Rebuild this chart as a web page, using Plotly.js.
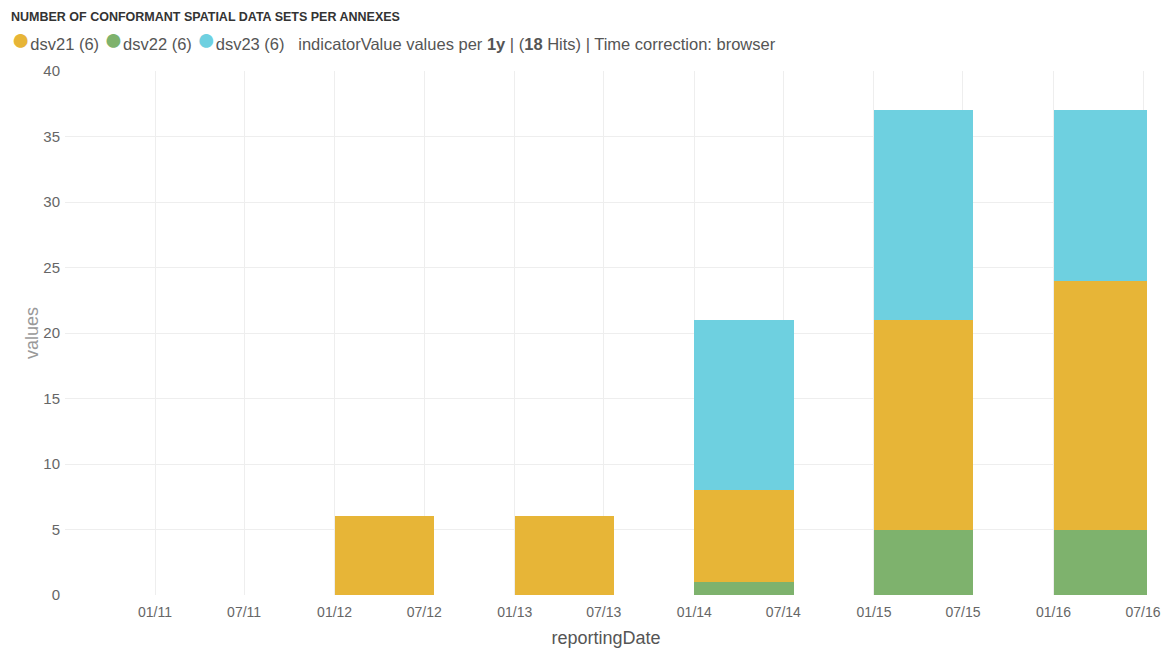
<!DOCTYPE html>
<html>
<head>
<meta charset="utf-8">
<script src="https://cdn.plot.ly/plotly-3.0.1.min.js"></script>
<style>html,body{margin:0;padding:0;background:#fff;}#chart{width:1167px;height:648px;}</style>
</head>
<body>
<div id="chart"></div>
<script>
// Data
var reportingDates = ["2011-01-01", "2012-01-01", "2013-01-01", "2014-01-01", "2015-01-01", "2016-01-01"];
var dsv21 = [0, 6, 6, 7, 16, 19];
var dsv22 = [0, 0, 0, 1, 5, 5];
var dsv23 = [0, 0, 0, 13, 16, 13];
var seriesNames = ["dsv21", "dsv22", "dsv23"];
var seriesColors = {dsv21: "#E7B537", dsv22: "#7EB26D", dsv23: "#6ED0E0"};
var chartTitle = "NUMBER OF CONFORMANT SPATIAL DATA SETS PER ANNEXES";
var intervalLabel = "1y";

var DAY = 86400000;
var barWidth = 202 * DAY;

function barTrace(name, vals) {
  return {
    type: "bar",
    name: name,
    x: reportingDates,
    y: vals,
    width: reportingDates.map(function(){return barWidth;}),
    offset: 0,
    marker: {color: seriesColors[name], line: {width: 0}},
    hoverinfo: "x+y+name"
  };
}

// stack order: dsv22 bottom, dsv21 middle, dsv23 top
var data = [barTrace("dsv22", dsv22), barTrace("dsv21", dsv21), barTrace("dsv23", dsv23)];

var counts = {dsv21: dsv21.length, dsv22: dsv22.length, dsv23: dsv23.length};
var hits = dsv21.length + dsv22.length + dsv23.length;

var legendHtml = seriesNames.map(function(n){
  return '<span style="color:' + seriesColors[n] + ';font-size:32px">●</span>' + n + ' (' + counts[n] + ')';
}).join(' ') + '   indicatorValue values per <b>' + intervalLabel + '</b> | (<b>' + hits + '</b> Hits) | Time correction: browser';

var FONT = "'Liberation Sans', Arial, sans-serif";
var L = 65, R = 20, T = 71, B = 53, W = 1167, H = 648;
var pw = W - L - R, ph = H - T - B;
function px(x){ return (x - L) / pw; }
function py(y){ return (H - B - y) / ph; }

var layout = {
  width: W, height: H,
  margin: {l: L, r: R, t: T, b: B, pad: 0},
  paper_bgcolor: "#fff",
  plot_bgcolor: "#fff",
  barmode: "stack",
  showlegend: false,
  font: {family: FONT, color: "#666"},
  xaxis: {
    type: "date",
    range: ["2010-07-02", "2016-07-09"],
    tickformat: "%m/%y",
    dtick: "M6",
    tick0: "2011-01-01",
    showgrid: true,
    gridcolor: "#eeeeee",
    gridwidth: 1,
    zeroline: false,
    showline: false,
    ticks: "",
    ticklabelstandoff: 7,
    tickfont: {size: 14, color: "#666"},
    title: {text: "reportingDate", font: {size: 18, color: "#555"}, standoff: 12}
  },
  yaxis: {
    range: [0, 40],
    dtick: 5,
    showgrid: true,
    gridcolor: "#eeeeee",
    gridwidth: 1,
    zeroline: false,
    showline: false,
    ticks: "",
    ticklabelstandoff: 4,
    tickfont: {size: 15, color: "#666"},
    title: {text: "values", font: {size: 18, color: "#999"}, standoff: 0}
  },
  annotations: [
    {
      xref: "paper", yref: "paper", x: px(9), y: py(17),
      xanchor: "left", yanchor: "middle", showarrow: false,
      text: "<b>" + chartTitle + "</b>",
      font: {size: 12.5, color: "#333", family: FONT}
    },
    {
      xref: "paper", yref: "paper", x: px(9), y: py(39),
      xanchor: "left", yanchor: "middle", showarrow: false,
      text: legendHtml,
      font: {size: 16.5, color: "#555", family: FONT}
    }
  ]
};

Plotly.newPlot("chart", data, layout, {displayModeBar: false, staticPlot: true});
</script>
</body>
</html>
